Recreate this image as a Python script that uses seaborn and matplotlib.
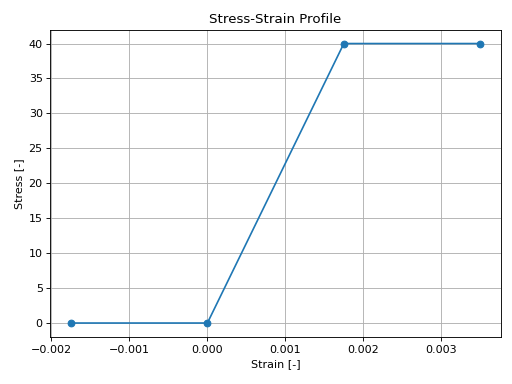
import pandas as pd
import seaborn as sns
import matplotlib.pyplot as plt

# stress-strain points
strain = [-0.00175, 0.0, 0.00175, 0.0035]
stress = [0.0, 0.0, 40.0, 40.0]

df = pd.DataFrame({"Strain": strain, "Stress": stress})

fig, ax = plt.subplots(figsize=(6.4, 4.8), dpi=80)
sns.lineplot(data=df, x="Strain", y="Stress", marker="o",
             color="#1f77b4", markeredgecolor="#1f77b4",
             markeredgewidth=1, markersize=6, ax=ax)
ax.set_title("Stress-Strain Profile")
ax.set_xlabel("Strain [-]")
ax.set_ylabel("Stress [-]")
ax.grid(True)
fig.subplots_adjust(left=0.0986, right=0.978, top=0.923, bottom=0.1224)
plt.savefig("out.png", dpi=80)
